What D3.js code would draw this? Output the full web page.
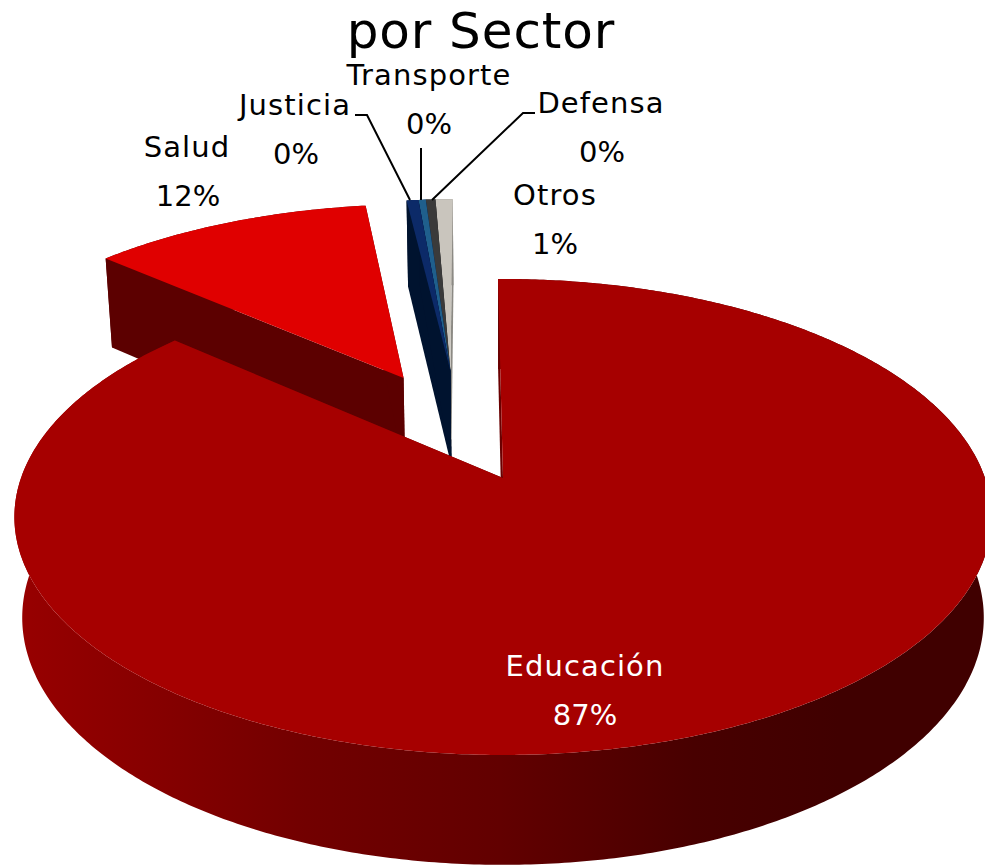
<!DOCTYPE html>
<html><head><meta charset="utf-8">
<script src="https://cdn.jsdelivr.net/npm/d3@7"></script>
<style>html,body{margin:0;padding:0;background:#fff;overflow:hidden}text{font-family:"DejaVu Sans",sans-serif}</style>
</head><body><svg id="c" width="985" height="866"></svg>
<script>
const categories = ["Educación","Salud","Justicia","Transporte","Defensa","Otros"];
const values = [86.6,11.5,0.49,0.3,0.4,0.71];
const topColors = ["#a60000","#e00000","#0c2a68","#1f5f8c","#3a3a3a","#c9c5bd"];
const wallColors = ["#6a0000","#5c0000","#00132f","#06204f","#1c1c1c","#8c8a84"];
const titleText = "por Sector";

const svg = d3.select("#c");
const cx=503, cy=478, R=482, C=231.6, K=0.1638;
const sx=d3.scaleLinear().domain([-1,1]).range([cx-R,cx+R]);
const sy=d3.scaleLinear().domain([-1,1]).range([cy+C,cy-C]);
function proj(u,v,down){
  const den=1+K*v;
  let x=cx+(sx(u)-cx)/den, y=cy+(sy(v)-cy)/den;
  if(down){ y+=99/(1+0.099*v); x=cx+(x-cx)*0.984; }
  return [x,y];
}
const pie=d3.pie().sort(null).value(d=>d).startAngle(-0.012).endAngle(2*Math.PI-0.012);
const arcs=pie(values);
const explode=[[0,0],[-0.222,0.465],[-0.118,0.50],[-0.118,0.50],[-0.118,0.50],[-0.118,0.50]];
const line=d3.line();
function rim(a,off,down){
  const n=Math.max(2,Math.ceil((a.endAngle-a.startAngle)/0.01));
  return d3.range(n+1).map(i=>{
    const t=a.startAngle+(a.endAngle-a.startAngle)*i/n;
    return proj(Math.sin(t)+off[0],Math.cos(t)+off[1],down);
  });
}
const defs=svg.append("defs");
const grad=defs.append("linearGradient").attr("id","sideGrad").attr("gradientUnits","userSpaceOnUse")
  .attr("x1",15).attr("x2",985).attr("y1",0).attr("y2",0);
[[0,"#980000"],[0.13,"#880000"],[0.3,"#720000"],[0.5,"#620000"],[0.7,"#480000"],[0.85,"#400000"],[1,"#400000"]]
  .forEach(s=>grad.append("stop").attr("offset",s[0]).attr("stop-color",s[1]));

function drawSlice(i){
  const a=arcs[i], off=explode[i];
  const top=rim(a,off,false), bot=rim(a,off,true);
  const apex=proj(off[0],off[1],false), apexB=proj(off[0],off[1],true);
  svg.append("path").attr("d",line(top.concat(bot.slice().reverse()))+"Z")
    .attr("fill",i===0?"url(#sideGrad)":wallColors[i]);
  const firstWall=[apex,top[0],bot[0],apexB];
  const lastWall=[apex,top[top.length-1],bot[bot.length-1],apexB];
  svg.append("path").attr("d",line(firstWall)+"Z").attr("fill",wallColors[i]);
  svg.append("path").attr("d",line(lastWall)+"Z").attr("fill",wallColors[i]);
  svg.append("path").attr("d",line([apex].concat(top))+"Z").attr("fill",topColors[i]);
}
[5,4,3,2,1,0].forEach(drawSlice);

svg.append("text").attr("x",481).attr("y",48).attr("text-anchor","middle")
  .attr("font-size",50).attr("letter-spacing",0.9).attr("fill","#000").text(titleText);

const labelX=[585,188,296,429,602,555], nameY=[676,157,115,85,113,205];
const nameAnchorX=[585,187,295,429,601,555];
categories.forEach((c,i)=>{
  const col=i===0?"#fff":"#000";
  svg.append("text").attr("x",nameAnchorX[i]).attr("y",nameY[i]).attr("text-anchor","middle")
    .attr("font-size",29).attr("letter-spacing",1.1).attr("fill",col).text(c);
  svg.append("text").attr("x",labelX[i]).attr("y",nameY[i]+49).attr("text-anchor","middle")
    .attr("font-size",29).attr("fill",col).text(Math.round(values[i])+"%");
});
const leaders=[[[355,115],[367,115],[410,200]],[[421,148],[421,200]],[[535,113],[523,113],[432,200]]];
leaders.forEach(l=>svg.append("path").attr("d",line(l)).attr("fill","none").attr("stroke","#000").attr("stroke-width",2));
</script></body></html>
